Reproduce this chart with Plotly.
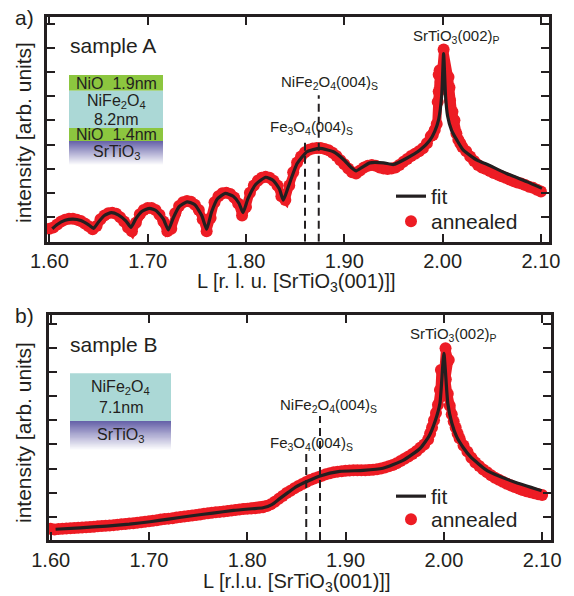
import plotly.graph_objects as go

# ---------------- data ----------------
x_ticks = [1.60, 1.70, 1.80, 1.90, 2.00, 2.10]
x_tick_labels = ["1.60", "1.70", "1.80", "1.90", "2.00", "2.10"]
y_ticks = [1, 2, 3, 4, 5, 6, 7, 8, 9]

# panel a) fit
fitA_L = [1.603, 1.608, 1.616, 1.624, 1.632, 1.640, 1.645, 1.650, 1.656, 1.663, 1.670, 1.678,
          1.683, 1.688, 1.694, 1.702, 1.709, 1.716, 1.721, 1.726, 1.732, 1.740, 1.748, 1.755,
          1.760, 1.765, 1.771, 1.779, 1.787, 1.793, 1.797, 1.802, 1.810, 1.820, 1.828, 1.834,
          1.838, 1.843, 1.852, 1.862, 1.875, 1.889, 1.900, 1.907, 1.912, 1.918, 1.926, 1.940,
          1.950, 1.963, 1.977, 1.987, 1.992, 1.996, 1.999, 2.001, 2.003, 2.005, 2.009, 2.015,
          2.021, 2.035, 2.045, 2.065, 2.086, 2.101]
fitA_I = [0.50, 0.68, 0.85, 0.90, 0.84, 0.66, 0.52, 0.78, 1.05, 1.17, 1.08, 0.82,
          0.56, 0.92, 1.22, 1.35, 1.24, 0.90, 0.45, 0.95, 1.42, 1.62, 1.50, 1.05,
          0.48, 1.20, 1.75, 1.97, 1.85, 1.55, 1.17, 1.75, 2.35, 2.64, 2.50, 2.15,
          1.69, 2.24, 3.21, 3.70, 3.84, 3.70, 3.35, 3.05, 2.91, 3.05, 3.24, 3.24,
          3.17, 3.42, 3.77, 4.18, 4.55, 5.05, 6.00, 7.78, 6.00, 5.20, 4.60, 4.15,
          3.77, 3.35, 3.18, 2.80, 2.45, 2.18]

# panel a) measured (annealed)
dataA_L = [1.600, 1.604, 1.608, 1.612, 1.616, 1.620, 1.624, 1.628, 1.632, 1.636, 1.640, 1.644,
           1.648, 1.652, 1.656, 1.660, 1.664, 1.668, 1.672, 1.676, 1.680, 1.684, 1.688, 1.692,
           1.696, 1.700, 1.704, 1.708, 1.712, 1.716, 1.720, 1.724, 1.728, 1.732, 1.736, 1.740,
           1.744, 1.748, 1.752, 1.756, 1.760, 1.764, 1.768, 1.772, 1.776, 1.780, 1.784, 1.788,
           1.792, 1.796, 1.800, 1.804, 1.808, 1.812, 1.816, 1.820, 1.824, 1.828, 1.832, 1.836,
           1.840, 1.844, 1.848, 1.852, 1.856, 1.860, 1.864, 1.868, 1.872, 1.876, 1.880, 1.884,
           1.888, 1.892, 1.896, 1.900, 1.904, 1.908, 1.912, 1.916, 1.920, 1.924, 1.928, 1.932,
           1.936, 1.940, 1.944, 1.948, 1.952, 1.956, 1.960, 1.964, 1.968, 1.972, 1.976, 1.980,
           1.984, 1.988, 1.990, 1.992, 1.994, 1.995, 1.996, 1.996, 1.997, 1.998, 2.001, 2.006,
           2.007, 2.0075, 2.010, 2.012, 2.014, 2.016, 2.018, 2.020, 2.024, 2.028, 2.032, 2.036,
           2.040, 2.044, 2.048, 2.052, 2.056, 2.060, 2.064, 2.068, 2.072, 2.076, 2.080, 2.084,
           2.088, 2.092, 2.096, 2.100]
dataA_I = [0.50, 0.55, 0.68, 0.80, 0.88, 0.92, 0.92, 0.88, 0.82, 0.72, 0.60, 0.48,
           0.62, 0.90, 1.05, 1.15, 1.17, 1.12, 0.98, 0.80, 0.55, 0.40, 0.75, 1.10,
           1.28, 1.36, 1.36, 1.28, 1.08, 0.80, 0.40, 0.50, 1.15, 1.45, 1.60, 1.65,
           1.62, 1.50, 1.28, 0.90, 0.40, 0.95, 1.60, 1.85, 1.98, 2.00, 1.95, 1.80,
           1.55, 1.05, 1.40, 2.00, 2.30, 2.50, 2.62, 2.66, 2.62, 2.50, 2.30, 1.85,
           1.70, 2.30, 2.85, 3.25, 3.50, 3.68, 3.78, 3.84, 3.86, 3.86, 3.82, 3.76,
           3.66, 3.52, 3.35, 3.18, 3.00, 2.85, 2.80, 2.92, 3.05, 3.12, 3.15, 3.12,
           3.05, 3.00, 2.98, 3.00, 3.05, 3.15, 3.28, 3.40, 3.52, 3.62, 3.72, 3.85,
           4.05, 4.35, 4.40, 4.60, 4.85, 5.77, 6.20, 6.90, 7.09, 6.60, 7.95, 6.81,
           6.37, 5.84, 5.36, 5.01, 4.46, 4.20, 4.05, 3.90, 3.72, 3.50, 3.32, 3.15,
           3.05, 2.98, 2.90, 2.82, 2.75, 2.68, 2.62, 2.55, 2.48, 2.42, 2.38, 2.32,
           2.25, 2.20, 2.12, 2.05]

# panel b) fit
fitB_L = [1.605, 1.630, 1.657, 1.680, 1.701, 1.720, 1.742, 1.765, 1.786, 1.805, 1.816, 1.825,
          1.833, 1.842, 1.850, 1.860, 1.874, 1.894, 1.918, 1.938, 1.959, 1.976, 1.985, 1.991,
          1.996, 2.000, 2.004, 2.008, 2.013, 2.020, 2.027, 2.044, 2.071, 2.0995]
fitB_I = [0.48, 0.54, 0.61, 0.69, 0.79, 0.90, 1.03, 1.15, 1.26, 1.33, 1.37, 1.50,
          1.75, 2.02, 2.25, 2.45, 2.69, 2.88, 2.92, 3.01, 3.35, 3.84, 4.35, 4.95,
          5.71, 7.78, 5.71, 4.90, 4.32, 3.85, 3.49, 2.91, 2.45, 2.08]

# panel b) measured (annealed)
dataB_L = [1.600, 1.604, 1.608, 1.612, 1.616, 1.620, 1.624, 1.628, 1.632, 1.636, 1.640, 1.644,
           1.648, 1.652, 1.656, 1.660, 1.664, 1.668, 1.672, 1.676, 1.680, 1.684, 1.688, 1.692,
           1.696, 1.700, 1.704, 1.708, 1.712, 1.716, 1.720, 1.724, 1.728, 1.732, 1.736, 1.740,
           1.744, 1.748, 1.752, 1.756, 1.760, 1.764, 1.768, 1.772, 1.776, 1.780, 1.784, 1.788,
           1.792, 1.796, 1.800, 1.804, 1.808, 1.812, 1.816, 1.820, 1.824, 1.828, 1.832, 1.836,
           1.840, 1.844, 1.848, 1.852, 1.856, 1.860, 1.864, 1.868, 1.872, 1.876, 1.880, 1.884,
           1.888, 1.892, 1.896, 1.900, 1.904, 1.908, 1.912, 1.916, 1.920, 1.924, 1.928, 1.932,
           1.936, 1.940, 1.944, 1.948, 1.952, 1.956, 1.960, 1.964, 1.968, 1.972, 1.976, 1.980,
           1.984, 1.986, 1.988, 1.990, 1.992, 1.994, 1.996, 1.997, 1.998, 2.0017, 2.005, 2.002,
           2.004, 2.006, 2.008, 2.010, 2.012, 2.014, 2.016, 2.020, 2.024, 2.028, 2.032, 2.036,
           2.040, 2.044, 2.048, 2.052, 2.056, 2.060, 2.064, 2.068, 2.072, 2.076, 2.080, 2.084,
           2.088, 2.092, 2.096, 2.100]
dataB_I = [0.50, 0.47, 0.49, 0.50, 0.51, 0.52, 0.53, 0.54, 0.55, 0.56, 0.57, 0.58,
           0.60, 0.61, 0.62, 0.63, 0.65, 0.67, 0.69, 0.70, 0.72, 0.73, 0.75, 0.77,
           0.79, 0.81, 0.83, 0.85, 0.88, 0.90, 0.92, 0.94, 0.97, 0.99, 1.01, 1.03,
           1.05, 1.07, 1.09, 1.12, 1.14, 1.16, 1.18, 1.20, 1.22, 1.24, 1.26, 1.28,
           1.30, 1.32, 1.33, 1.34, 1.35, 1.37, 1.39, 1.44, 1.52, 1.62, 1.74, 1.86,
           1.98, 2.08, 2.18, 2.27, 2.36, 2.44, 2.52, 2.58, 2.64, 2.70, 2.76, 2.80,
           2.84, 2.87, 2.89, 2.91, 2.92, 2.93, 2.93, 2.93, 2.93, 2.94, 2.95, 2.97,
           3.00, 3.04, 3.09, 3.15, 3.22, 3.31, 3.40, 3.50, 3.60, 3.72, 3.86, 4.00,
           4.20, 4.45, 4.70, 5.00, 5.30, 5.65, 6.26, 7.09, 6.00, 7.99, 7.50, 6.70,
           6.10, 5.60, 5.25, 4.95, 4.70, 4.45, 4.25, 3.95, 3.70, 3.45, 3.25, 3.10,
           2.96, 2.84, 2.72, 2.62, 2.53, 2.45, 2.37, 2.30, 2.23, 2.17, 2.11, 2.06,
           2.01, 1.97, 1.93, 1.90]

# positions of the spinel reflections: Fe3O4(004), NiFe2O4(004)
refl_L = [1.860, 1.874]
reflA_top = [4.27, 6.05]
reflB_top = [3.80, 5.18]

# ---------------- styling / geometry ----------------
W, H = 574, 596
ML, MR, MT, MB = 47, 23, 17, 56
PW, PH = W - ML - MR, H - MT - MB
FONT = "Liberation Sans, Arial, Helvetica, sans-serif"
TXT = "#231f20"
RED = "#ed1c24"
GREEN = "#8cc63f"
TEAL = "#abd8d6"


def px(x):
    return (x - ML) / PW


def py(y):
    return (H - MB - y) / PH


yA_range = [-0.037, 9.30]
yB_range = [0.033, 9.37]

fig = go.Figure()


def add_panel(dL, dI, fL, fI, tops, yr, xa, ya, leg_fit, leg_dat):
    # measured points: a red band of overlapping dots
    fig.add_trace(go.Scatter(x=dL, y=dI, mode="lines", showlegend=False, hoverinfo="skip",
                             line=dict(color=RED, width=9), xaxis=xa, yaxis=ya))
    fig.add_trace(go.Scatter(x=dL, y=dI, mode="markers", name="annealed",
                             marker=dict(color=RED, size=12, line=dict(width=0)),
                             xaxis=xa, yaxis=ya, legend=leg_dat))
    fig.add_trace(go.Scatter(x=fL, y=fI, mode="lines", name="fit",
                             line=dict(color=TXT, width=3.2, shape="spline", smoothing=0.5),
                             xaxis=xa, yaxis=ya, legend=leg_fit))
    for L, top in zip(refl_L, tops):
        fig.add_trace(go.Scatter(x=[L, L], y=[yr[0], top], mode="lines", showlegend=False,
                                 line=dict(color=TXT, width=2, dash="8px,5px"),
                                 xaxis=xa, yaxis=ya, hoverinfo="skip"))


add_panel(dataA_L, dataA_I, fitA_L, fitA_I, reflA_top, yA_range, "x", "y", "legend", "legend3")
add_panel(dataB_L, dataB_I, fitB_L, fitB_I, reflB_top, yB_range, "x2", "y2", "legend2", "legend4")

axis_common = dict(showgrid=False, zeroline=False, showline=True, linecolor=TXT, linewidth=2.5,
                   mirror="ticks", ticks="inside", ticklen=8, tickwidth=2, tickcolor=TXT)

xA = dict(axis_common, domain=[0, 502 / PW], range=[1.5976, 2.1082], tickvals=x_ticks,
          ticktext=x_tick_labels, anchor="y", tickfont=dict(size=20, family=FONT, color=TXT))
xB = dict(axis_common, domain=[2 / PW, 1], range=[1.5983, 2.1090], tickvals=x_ticks,
          ticktext=x_tick_labels, anchor="y2", tickfont=dict(size=20, family=FONT, color=TXT))
yA = dict(axis_common, domain=[py(241.7), 1], range=yA_range, tickvals=y_ticks,
          showticklabels=False, anchor="x")
yB = dict(axis_common, domain=[0, py(315)], range=yB_range, tickvals=y_ticks,
          showticklabels=False, anchor="x2")

legend_common = dict(xanchor="left", yanchor="top", bgcolor="rgba(0,0,0,0)", borderwidth=0,
                     font=dict(size=21, family=FONT, color=TXT), itemwidth=30)

annotations = []
shapes = []


def text(x, y, s, size, anchor="center"):
    annotations.append(dict(xref="paper", yref="paper", x=px(x), y=py(y), text=s,
                            showarrow=False, xanchor=anchor, yanchor="middle",
                            font=dict(size=size, family=FONT, color=TXT)))


def rect(x0, y0, x1, y1, color):
    shapes.append(dict(type="rect", xref="paper", yref="paper", x0=px(x0), x1=px(x1),
                       y0=py(y1), y1=py(y0), fillcolor=color, line=dict(width=0),
                       layer="below"))


def gradient(x0, y0, x1, y1, top=(100, 96, 168), n=24):
    h = (y1 - y0) / n
    for i in range(n):
        t = (i + 0.5) / n
        c = tuple(int(round(top[k] + (255 - top[k]) * t)) for k in range(3))
        y_end = y0 + (i + 1) * h + (1.0 if i < n - 1 else 0)
        rect(x0, y0 + i * h, x1, y_end, "rgb(%d,%d,%d)" % c)


# panel labels
text(13, 17, "a)", 21, "left")
text(13, 315, "b)", 21, "left")
text(68, 46, "sample A", 21, "left")
text(68, 344, "sample B", 21, "left")

# axis titles
text(296, 283, "L [r. l. u. [SrTiO<sub>3</sub>(001)]]", 20)
text(296, 582, "L [r.l.u. [SrTiO<sub>3</sub>(001)]]", 20)
annotations.append(dict(xref="paper", yref="paper", x=px(23), y=py(133),
                        text="intensity [arb. units]", showarrow=False, textangle=-90,
                        xanchor="center", yanchor="middle",
                        font=dict(size=21, family=FONT, color=TXT)))
annotations.append(dict(xref="paper", yref="paper", x=px(23), y=py(433),
                        text="intensity [arb. units]", showarrow=False, textangle=-90,
                        xanchor="center", yanchor="middle",
                        font=dict(size=21, family=FONT, color=TXT)))

# reflection labels
text(456, 36, "SrTiO<sub>3</sub>(002)<sub>P</sub>", 15)
text(329, 82, "NiFe<sub>2</sub>O<sub>4</sub>(004)<sub>S</sub>", 15)
text(311, 127, "Fe<sub>3</sub>O<sub>4</sub>(004)<sub>S</sub>", 15)
text(453, 334, "SrTiO<sub>3</sub>(002)<sub>P</sub>", 15)
text(328, 405, "NiFe<sub>2</sub>O<sub>4</sub>(004)<sub>S</sub>", 15)
text(311, 443, "Fe<sub>3</sub>O<sub>4</sub>(004)<sub>S</sub>", 15)

# layer-stack insets
rect(69, 75, 163, 90.7, GREEN)
rect(69, 90.7, 163, 128, TEAL)
rect(69, 128, 163, 141, GREEN)
gradient(69, 141, 163, 165)
text(116, 83, "NiO  1.9nm", 16)
text(116, 101, "NiFe<sub>2</sub>O<sub>4</sub>", 16)
text(116, 119, "8.2nm", 16)
text(116, 134.5, "NiO  1.4nm", 16)
text(116, 152, "SrTiO<sub>3</sub>", 16)

rect(70, 373.3, 171, 421, TEAL)
gradient(70, 421, 171, 450)
text(120.5, 388, "NiFe<sub>2</sub>O<sub>4</sub>", 16)
text(120.5, 407, "7.1nm", 16)
text(120.5, 435, "SrTiO<sub>3</sub>", 16)

fig.update_layout(
    width=W, height=H, margin=dict(l=ML, r=MR, t=MT, b=MB),
    paper_bgcolor="white", plot_bgcolor="white",
    xaxis=xA, yaxis=yA, xaxis2=xB, yaxis2=yB,
    legend=dict(legend_common, x=px(391), y=py(176)),
    legend3=dict(legend_common, x=px(391), y=py(201)),
    legend2=dict(legend_common, x=px(391), y=py(476)),
    legend4=dict(legend_common, x=px(391), y=py(499)),
    annotations=annotations, shapes=shapes,
    font=dict(family=FONT, color=TXT),
)

fig.write_html("out.html")
